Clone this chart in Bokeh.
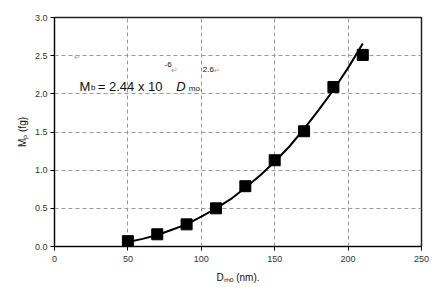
from bokeh.plotting import figure
from bokeh.models import Label, FixedTicker, ColumnDataSource, CustomJSTickFormatter
from bokeh.embed import file_html
from bokeh.resources import INLINE

# data
d_mo = [50, 70, 90, 110, 130, 150, 170, 190, 210]
m_p = [0.07, 0.16, 0.29, 0.50, 0.79, 1.13, 1.51, 2.09, 2.51]

# fitted curve
fit_d = [50, 60, 70, 80, 90, 100, 110, 120, 130, 140, 150, 160, 170, 180, 190, 200, 210]
fit_m = [0.06, 0.10, 0.15, 0.22, 0.29, 0.39, 0.50, 0.62, 0.77, 0.93, 1.11, 1.31, 1.54, 1.79, 2.05, 2.34, 2.66]

x_ticks = [0, 50, 100, 150, 200, 250]
y_ticks = [0.0, 0.5, 1.0, 1.5, 2.0, 2.5, 3.0]

x_title = "D\u2098\u2092 (nm)."
y_title = "M\u209a (fg)"

FONT = "Liberation Sans"
W, H = 445, 287

p = figure(width=W, height=H, output_backend="svg", toolbar_location=None,
           x_range=(0, 250), y_range=(0, 3.0),
           min_border_left=54, min_border_right=24, min_border_top=17, min_border_bottom=41)
p.background_fill_color = "white"
p.border_fill_color = "white"
p.outline_line_color = "#222222"
p.outline_line_width = 1.5

for ax in (p.xaxis, p.yaxis):
    ax.axis_line_color = "black"
    ax.major_tick_line_color = "black"
    ax.minor_tick_line_color = None
    ax.major_tick_out = 4
    ax.major_tick_in = 0
    ax.major_label_text_font = FONT
    ax.major_label_text_font_size = "9px"
    ax.major_label_text_color = "#333333"
    ax.axis_label_text_font = FONT
    ax.axis_label_text_font_style = "normal"
    ax.axis_label_text_font_size = "10px"
    ax.axis_label_text_color = "#111111"

p.xaxis.ticker = FixedTicker(ticks=x_ticks)
p.yaxis.ticker = FixedTicker(ticks=y_ticks)
p.yaxis.formatter = CustomJSTickFormatter(code="return tick.toFixed(1);")
p.xaxis.major_label_standoff = 5
p.yaxis.major_label_standoff = 3

p.xaxis.axis_label = x_title
p.xaxis.axis_label_standoff = 7
p.yaxis.axis_label = y_title
p.yaxis.axis_label_standoff = 4

for g in (p.xgrid, p.ygrid):
    g.grid_line_color = "#999999"
    g.grid_line_dash = "4 3"
    g.grid_line_width = 1

src = ColumnDataSource(dict(x=fit_d, y=fit_m))
p.line("x", "y", source=src, line_color="black", line_width=2)
p.scatter(d_mo, m_p, marker="square", size=11, color="black")

def lab(x, y, text, size="12px", style="normal", color="#111111"):
    p.add_layout(Label(x=x, y=y, text=text,
                       text_font=FONT, text_font_size=size,
                       text_font_style=style, text_color=color,
                       text_align="left", text_baseline="alphabetic"))

# equation
lab(17.0, 2.10, "M", "13px")
lab(24.8, 2.08, "b", "8px")
lab(29.5, 2.10, "= 2.44 x 10", "13px")
lab(75.0, 2.38, "-6", "8px")
lab(79.5, 2.30, "\u21b5", "8px", color="#999999")
lab(83.0, 2.10, "D", "13px", "italic")
lab(91.5, 2.07, "mo.", "8px")
lab(101.0, 2.32, "2.6", "8px")
lab(108.5, 2.30, "\u21b5", "7px", color="#999999")
lab(13.5, 2.47, "\u21b5", "8px", color="#aaaaaa")

open("out.html", "w").write(file_html(p, INLINE))
